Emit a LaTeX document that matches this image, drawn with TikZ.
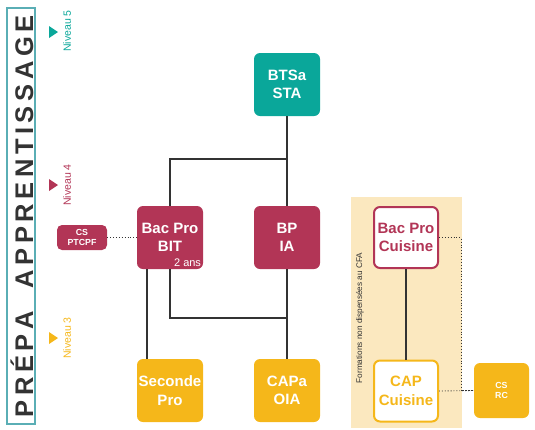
\documentclass[tikz,border=0pt]{standalone}
\usepackage{fontspec}
\setmainfont{Liberation Sans}
\definecolor{teal1}{HTML}{0AA79A}
\definecolor{crim}{HTML}{B23556}
\definecolor{amber}{HTML}{F5B71A}
\definecolor{beige}{HTML}{FBE8BF}
\definecolor{titleb}{HTML}{5AAEB5}
\definecolor{dgrey}{HTML}{333333}
\begin{document}
\begin{tikzpicture}[x=1pt,y=-1pt,
  box/.style={rounded corners=6pt,minimum width=66pt,minimum height=63pt,inner sep=0pt,align=center,font=\bfseries\fontsize{15}{18.5}\selectfont,text=white},
  small/.style={rounded corners=5pt,inner sep=0pt,align=center,font=\bfseries\fontsize{8.8}{10.8}\selectfont,text=white},
  conn/.style={draw=dgrey,line width=1.1pt},
  dots/.style={draw=dgrey,line width=0.9pt,dotted},
  niv/.style={rotate=90,font=\fontsize{10.5}{12}\selectfont}]
\useasboundingbox (0,0) rectangle (535,429);
% title
\node[draw=titleb,line width=2pt,minimum width=28pt,minimum height=416pt,inner sep=0pt] (titlebox) at (21,216) {};
\node[rotate=90,text=dgrey,inner sep=0pt,font=\bfseries\fontsize{25.5}{28}\selectfont] (title) at (22,216.5) {\makebox[402pt][s]{P\hfill R\hfill É\hfill P\hfill A\hfill\hspace{14pt}\hfill A\hfill P\hfill P\hfill R\hfill E\hfill N\hfill T\hfill I\hfill S\hfill S\hfill A\hfill G\hfill E}};
% niveaux
\fill[teal1] (49,26) -- (58,32) -- (49,38) -- cycle;
\node[niv,text=teal1] (n5) at (67,31) {Niveau 5};
\fill[crim] (49,179) -- (58,185) -- (49,191) -- cycle;
\node[niv,text=crim] (n4) at (67,185) {Niveau 4};
\fill[amber] (49,332) -- (58,338) -- (49,344) -- cycle;
\node[niv,text=amber] (n3) at (67,338) {Niveau 3};
% beige panel
\fill[beige] (351,197) rectangle (462,428);
\node[rotate=90,text=dgrey,font=\fontsize{8.2}{10}\selectfont] (cfa) at (360,318) {Formations non dispensées au CFA};
% boxes
\node[box,fill=teal1] (bts) at (287,84.5) {BTSa\\STA};
\node[box,fill=crim] (bac) at (170,237.5) {Bac Pro\\BIT};
\node[anchor=south east,text=white,font=\fontsize{11}{13}\selectfont,inner sep=2pt] (ans) at (bac.south east) {2 ans};
\node[box,fill=crim] (bp) at (287,237.5) {BP\\IA};
\node[box,fill=amber] (sec) at (170,390.5) {Seconde\\Pro};
\node[box,fill=amber] (capa) at (287,390.5) {CAPa\\OIA};
\node[box,fill=white,draw=crim,line width=2pt,text=crim,minimum width=64pt,minimum height=61pt] (bacc) at (406,237.5) {Bac Pro\\Cuisine};
\node[box,fill=white,draw=amber,line width=2pt,text=amber,minimum width=64pt,minimum height=61pt] (capc) at (406,391) {CAP\\Cuisine};
\node[small,fill=crim,minimum width=50pt,minimum height=25pt] (cs1) at (82,237.5) {CS\\PTCPF};
\node[small,fill=amber,minimum width=55pt,minimum height=55pt,rounded corners=6pt] (cs2) at (501.5,390.5) {CS\\RC};
% connectors
\coordinate (j1) at (287,159);
\draw[conn] (bts.south) -- (bp.north);
\draw[conn] (j1) -| (bac.north);
\draw[conn] ([xshift=-23pt]bac.south) -- ([xshift=-23pt]sec.north);
\coordinate (j2) at (287,318);
\draw[conn] (bac.south) |- (j2);
\draw[conn] (bp.south) -- (capa.north);
\draw[conn] (bacc.south) -- (capc.north);
\draw[dots] (cs1.east) -- (bac.west);
\coordinate (j3) at (461,237.5);
\draw[dots] (bacc.east) -- (j3) |- (cs2.west);
\draw[dots] (capc.east) -- (cs2.west);
\end{tikzpicture}
\end{document}
